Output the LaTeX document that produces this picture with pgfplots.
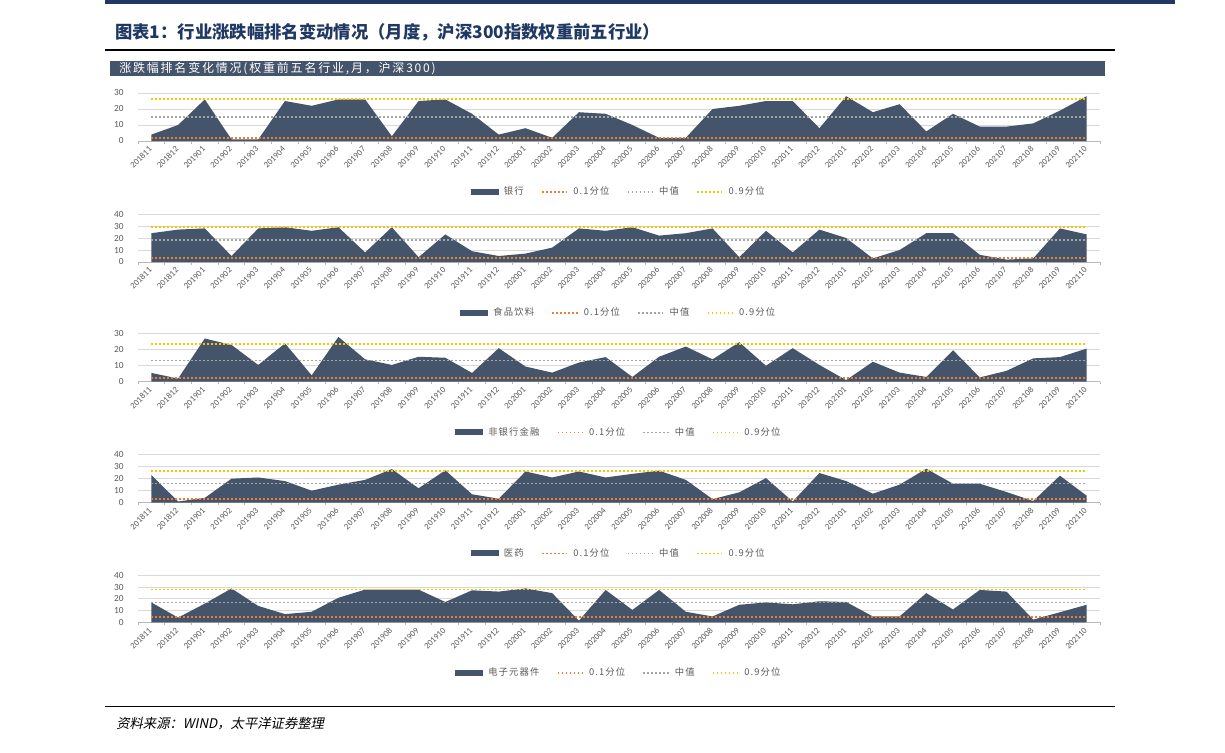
\documentclass[border=0pt]{standalone}
\usepackage{fontspec}
\setmainfont{Carlito}
\newfontfamily\cjk{Noto Sans CJK SC}
\newfontfamily\cjksp{Noto Sans CJK SC}[LetterSpace=12]
\newfontfamily\cjkhd{Noto Sans CJK SC}[LetterSpace=15]
\newfontfamily\cjkit{Noto Sans CJK SC}[FakeSlant=0.2]
\usepackage{pgfplots}
\usepackage{pgfplotstable}
\pgfplotsset{compat=1.18}

\definecolor{areac}{HTML}{44546A}
\definecolor{qlo}{HTML}{ED7D31}
\definecolor{qmid}{HTML}{A5A5A5}
\definecolor{qhi}{HTML}{FFC000}
\definecolor{navy}{HTML}{1F3864}
\definecolor{gridc}{HTML}{D9D9D9}
\definecolor{txt}{HTML}{595959}

\pgfplotstableread{
x bank food fin med elec
0  4  24 5.5 23 17
1  10 27 2   1  4
2  26 28 27  4  16
3  1  5  23  20 29
4  1  28 10.5 21 14
5  25 29 24  18 7
6  22 26 4   10 9
7  26 29 28  15 21
8  26 8  14  19 28
9  3  29 10.5 28 28
10 25 4  15.6 12 28
11 26 23 15  27 17.4
12 17 9  5.5 7  27.4
13 4  5  21  3.3 26.3
14 8  7  9.5 26 29
15 2  12 5.7 21 25
16 18 28 12  26 1.4
17 17 26 15.4 21 27.7
18 10 29 3   24 10.6
19 2  22 15.6 26.7 27.7
20 2  24 22  19 9
21 20 28 14  3  5
22 22 4  24.7 8.6 15
23 25 26 10  20.5 17
24 25 8  21  1  15.4
25 8  27 10.5 24.7 18
26 28 20 1   18 17.4
27 18 3  12.5 7.5 5
28 23 10 5.7 15 5
29 6  24 3   28.3 25
30 17 24 19.7 15.8 11
31 9  6  2.7 15.8 27.7
32 9  2  6.8 8.9 26.3
33 11 3  14.6 1.4 2.3
34 19 28 15.4 22.5 8.6
35 28 23 20.7 5.8 15
}\datatable

\pgfplotsset{
  panel/.style={
    scale only axis, width=721.5pt, height=36pt,
    xmin=-0.5, xmax=35.5, ymin=0,
    axis x line*=bottom, axis y line*=left,
    y axis line style={draw=none},
    x axis line style={draw=gridc!85!black, line width=0.75pt},
    ymajorgrids, grid style={gridc, line width=0.75pt},
    ytick distance=10,
    xtick={0,...,35},
    xticklabels={201811,201812,201901,201902,201903,201904,201905,201906,201907,201908,201909,201910,201911,201912,202001,202002,202003,202004,202005,202006,202007,202008,202009,202010,202011,202012,202101,202102,202103,202104,202105,202106,202107,202108,202109,202110},
    x tick label style={rotate=45, anchor=east, font=\fontsize{6.5}{7}\selectfont, text=txt, inner sep=1pt},
    y tick label style={font=\fontsize{7}{8}\selectfont, text=txt, xshift=-3pt},
    major x tick style={draw=none},
    major y tick style={draw=none},
    minor xtick={-0.5,0.5,...,35.5},
    minor tick length=2pt,
    tick align=outside,
    minor x tick style={draw=gridc!85!black, line width=0.75pt},
    /pgf/number format/assume math mode=true,
    legend columns=-1,
    legend style={at={(0.5,0)}, anchor=center, yshift=-38pt, draw=none, fill=none,
      font=\cjksp\fontsize{7}{8}\selectfont, text=txt,
      /tikz/every odd column/.append style={column sep=2pt},
      /tikz/every even column/.append style={column sep=11pt}},
  },
  q/.style={line width=1.25pt, dash pattern=on 1.25pt off 1.75pt,
    legend image code/.code={\draw[##1] (0pt,0pt) -- (19pt,0pt);}},
  ar/.style={fill=areac, draw=none,
    legend image code/.code={\fill[areac] (0pt,-2.3pt) rectangle (21pt,2.3pt);}},
}

\begin{document}
\begin{tikzpicture}
\path[use as bounding box] (0,0) rectangle (918.75pt,-564.75pt);
\begin{scope}[x=0.75pt,y=-0.75pt]
  \fill[navy] (105,0) rectangle (1175,4);
  \node[anchor=west, text=navy, inner sep=0pt] at (115,32) {\cjk\bfseries\fontsize{13}{15}\selectfont 图表1：行业涨跌幅排名变动情况（月度，沪深300指数权重前五行业）};
  \draw[black, line width=1.1pt] (105,50) -- (1115,50);
  \fill[areac] (110,61) rectangle (1105,76);
  \node[anchor=west, text=white, inner sep=0pt] at (119,68.5) {\cjkhd\fontsize{9}{10}\selectfont 涨跌幅排名变化情况(权重前五名行业,月，沪深300)};
  \draw[black, line width=0.6pt] (105,706) -- (1115,706);
  \node[anchor=west, inner sep=0pt] at (116,724) {\cjkit\fontsize{10}{12}\selectfont 资料来源：WIND，太平洋证券整理};
\end{scope}

\begin{axis}[panel, at={(103.5pt,-105.75pt)}, anchor=south west, ymax=30]
  \addplot[ar] table[x=x,y=bank]{\datatable} \closedcycle;
  \addplot[q, qlo] coordinates {(0,2) (35,2)};
  \addplot[q, qmid] coordinates {(0,15) (35,15)};
  \addplot[q, qhi] coordinates {(0,26.2) (35,26.2)};
  \legend{银行,0.1分位,中值,0.9分位}
\end{axis}

\begin{axis}[panel, at={(103.5pt,-196.5pt)}, anchor=south west, ymax=40]
  \addplot[ar] table[x=x,y=food]{\datatable} \closedcycle;
  \addplot[q, qlo] coordinates {(0,3.6) (35,3.6)};
  \addplot[q, qmid] coordinates {(0,18.5) (35,18.5)};
  \addplot[q, qhi] coordinates {(0,29.4) (35,29.4)};
  \legend{食品饮料,0.1分位,中值,0.9分位}
\end{axis}

\begin{axis}[panel, at={(103.5pt,-286.3pt)}, anchor=south west, ymax=30]
  \addplot[ar] table[x=x,y=fin]{\datatable} \closedcycle;
  \addplot[q, qlo] coordinates {(0,2.5) (35,2.5)};
  \addplot[q, qmid] coordinates {(0,13.3) (35,13.3)};
  \addplot[q, qhi] coordinates {(0,23.5) (35,23.5)};
  \legend{非银行金融,0.1分位,中值,0.9分位}
\end{axis}

\begin{axis}[panel, at={(103.5pt,-377pt)}, anchor=south west, ymax=40]
  \addplot[ar] table[x=x,y=med]{\datatable} \closedcycle;
  \addplot[q, qlo] coordinates {(0,3) (35,3)};
  \addplot[q, qmid] coordinates {(0,16.1) (35,16.1)};
  \addplot[q, qhi] coordinates {(0,26.4) (35,26.4)};
  \legend{医药,0.1分位,中值,0.9分位}
\end{axis}

\begin{axis}[panel, at={(103.5pt,-466.7pt)}, anchor=south west, ymax=40, height=35pt]
  \addplot[ar] table[x=x,y=elec]{\datatable} \closedcycle;
  \addplot[q, qlo] coordinates {(0,4.3) (35,4.3)};
  \addplot[q, qmid] coordinates {(0,17) (35,17)};
  \addplot[q, qhi] coordinates {(0,28) (35,28)};
  \legend{电子元器件,0.1分位,中值,0.9分位}
\end{axis}
\end{tikzpicture}
\end{document}
